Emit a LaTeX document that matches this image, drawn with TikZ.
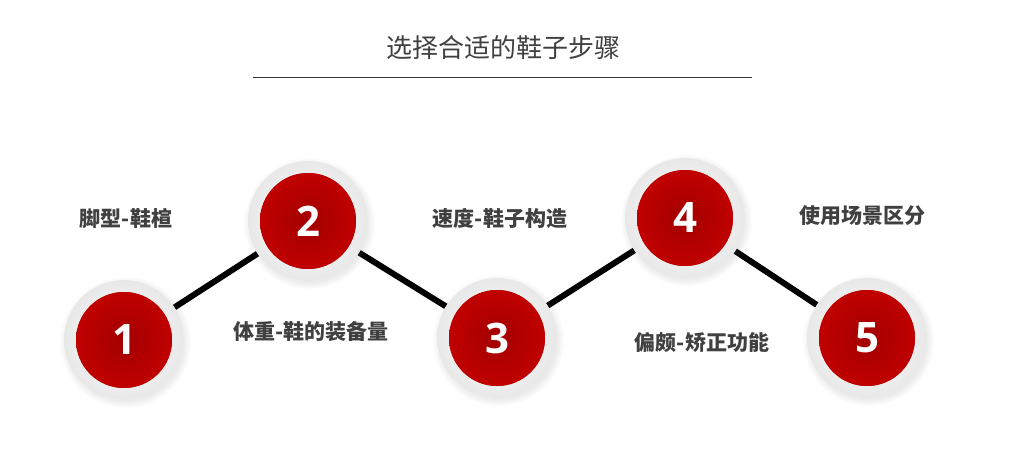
\documentclass[tikz,border=0pt]{standalone}
\usepackage{fontspec}
\setmainfont{Noto Sans}
\newfontfamily\cjk{Noto Sans CJK SC}
\newfontfamily\numf{Open Sans}[BoldFont={Open Sans Bold}]
\usetikzlibrary{shadows,backgrounds}
\definecolor{redc}{HTML}{C00000}
\definecolor{txt}{HTML}{404040}
\tikzset{
 ring/.style={circle,minimum size=120pt,inner sep=0pt,fill=white,inner color=white,outer color=black!9,circular drop shadow={shadow xshift=1pt,shadow yshift=-2pt,opacity=0.2}},
 core/.style={circle,minimum size=96pt,inner sep=0pt,fill=redc,inner color=redc!85!black,outer color=redc,text=white,font=\numf\bfseries\fontsize{42}{42}\selectfont},
 lab/.style={text=txt,font=\cjk\bfseries\fontsize{21}{21}\selectfont},
 conn/.style={line width=6pt,black}
}
\begin{document}
\begin{tikzpicture}[x=1pt,y=-1pt]
\useasboundingbox (0,0) rectangle (1013,476);
\node[text=txt,font=\cjk\fontsize{26}{26}\selectfont] (title) at (503,48) {选择合适的鞋子步骤};
\draw[black!80,line width=1pt] (253,78) coordinate (la) -- (752,78) coordinate (lb);
\coordinate (p1) at (124,340);
\coordinate (p2) at (308,221);
\coordinate (p3) at (497,338);
\coordinate (p4) at (685,218);
\coordinate (p5) at (867,338);
\draw[conn] (p1)--(p2)--(p3)--(p4)--(p5);
\foreach \i in {1,...,5}{
 \node[ring] (r\i) at (p\i) {};
 \node[core] (c\i) at (p\i) {\i};
}
\node[lab] (t1) at (126,218) {脚型-鞋楦};
\node[lab] (t2) at (311,332) {体重-鞋的装备量};
\node[lab] (t3) at (500,218) {速度-鞋子构造};
\node[lab] (t4) at (702,343) {偏颇-矫正功能};
\node[lab] (t5) at (862,216) {使用场景区分};
\end{tikzpicture}
\end{document}
